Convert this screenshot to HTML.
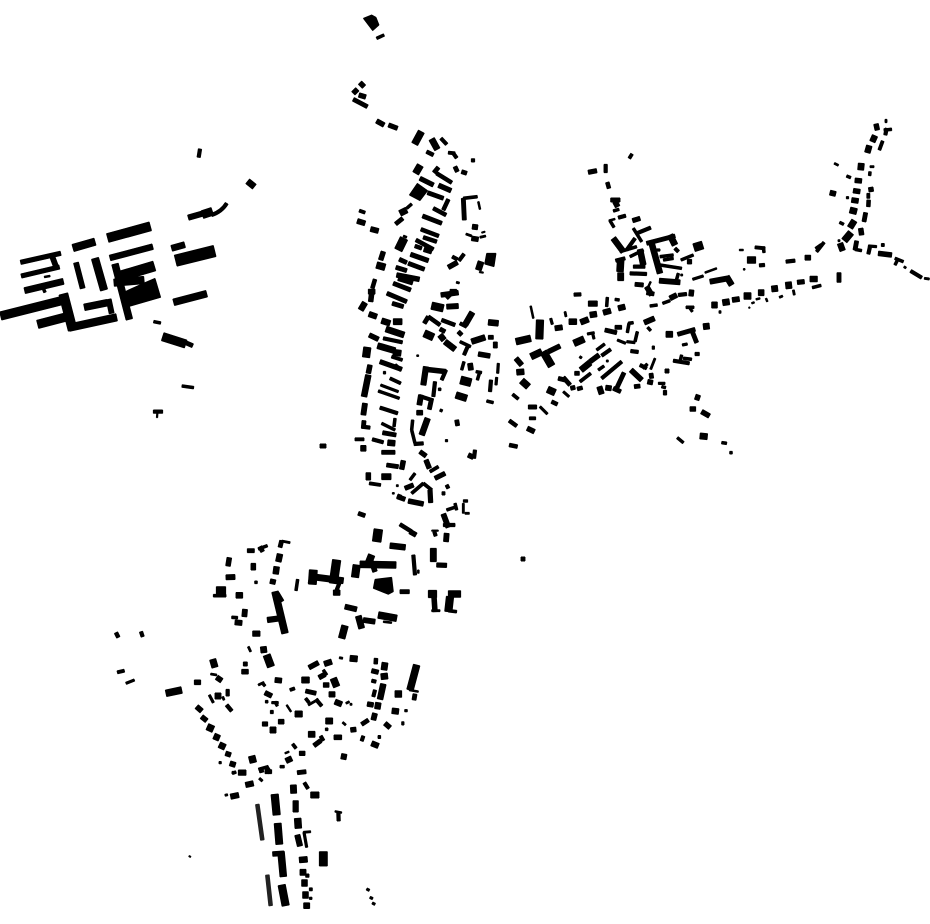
<!DOCTYPE html>
<html><head><meta charset="utf-8"><title>Figure-ground plan</title>
<style>html,body{margin:0;padding:0;background:#fff;width:930px;height:924px;overflow:hidden}svg{display:block}polygon{fill:#000;stroke:none}</style></head>
<body>
<svg width="930" height="924" viewBox="0 0 930 924" fill="none" stroke="#000" xmlns="http://www.w3.org/2000/svg">
<g id="a">
<path stroke-width="4" d="M521 559 525 559M320 446 326 446"/>
<!-- Z1 west -->
<g transform="translate(0,140) scale(.33333)">
<path stroke-width="4" d="M472 820 471 833"/>
<path stroke-width="5" d="M133 411 150 408"/>
<path stroke-width="8" d="M461 545 482 549M546 738 581 743M130 445 135 457"/>
<path stroke-width="10" d="M600 27 596 52M460 815 488 815M635 225Q665 215 680 190"/>
<path stroke-width="12" d="M550 605 578 617"/>
<path stroke-width="13" d="M62 367 182 340M64 408 178 381"/>
<path stroke-width="15" d="M155 345 170 385M228 368 248 445M326 478 335 520"/>
<path stroke-width="17" d="M330 354 458 320"/>
<path stroke-width="18" d="M515 325 554 314M74 452 190 424M743 124 763 140"/>
<path stroke-width="16" d="M565 233 610 220"/>
<path stroke-width="24" d="M607 224 637 214"/>
<path stroke-width="20" d="M521 487 620 461M253 502 322 488M345 372 388 538"/>
<path stroke-width="22" d="M219 324 285 305M285 355 312 450M207 563 350 532M342 428 432 420"/>
<path stroke-width="25" d="M113 553 198 531M2 528 185 482M488 590 557 612"/>
<path stroke-width="27" d="M323 294 451 259M190 462 218 570"/>
<path stroke-width="30" d="M362 408 463 378"/>
<path stroke-width="34" d="M527 362 644 333"/>
<polygon points="375,455 430,430 465,415 482,472 385,500"/>
</g>
<!-- Z2 north -->
<g transform="translate(340,0) scale(.33333)">
<polygon points="70,55 95,45 108,52 117,75 98,92"/>
<path stroke-width="8" d="M110 115 132 105"/>
<path stroke-width="14" d="M60 248 72 260M40 280 52 268M57 285 77 291M110 363 132 375"/>
<path stroke-width="12" d="M40 298 82 320"/>
<path stroke-width="13" d="M146 375 172 385"/>
<path stroke-width="20" d="M224 432 244 395"/>
<path stroke-width="18" d="M275 417 292 448"/>
<path stroke-width="10" d="M303 415 320 433M394 481 404 481M340 460 350 474"/>
<path stroke-width="11" d="M260 455 280 465"/>
<path stroke-width="9" d="M325 458 345 460"/>
</g>
<!-- Z3 center north -->
<g transform="translate(340,160) scale(.33333)">
<path stroke-width="20" d="M227 40 241 16M110 315 135 322"/>
<path stroke-width="12" d="M282 38 295 22M263 98 310 115M248 168 305 190M205 310 253 328M178 298 200 308M168 322 200 332M160 370 212 390M141 400 200 425M157 430 190 440M167 192 188 175M345 20 352 35M365 35 380 40M370 115 373 180"/>
<path stroke-width="11" d="M290 40 335 68M325 118 310 150M280 145 318 165M243 208 296 228M250 232 290 245M228 240 280 268M225 258 245 265M105 358 97 385M265 470 300 495M305 480 345 495"/>
<path stroke-width="13" d="M240 55 280 75M212 283 265 302"/>
<path stroke-width="14" d="M296 76 333 92M252 268 275 275M170 345 238 358M175 355 218 368M130 275 122 300M95 400 92 425M303 405 355 398M325 322 352 307M395 235 415 238"/>
<polygon points="208,105 232,70 263,92 240,122"/>
<polygon points="440,280 468,280 462,320 434,312"/>
<path stroke-width="9" d="M58 152 75 158"/>
<path stroke-width="15" d="M52 183 75 190M92 207 115 213M85 395 105 395M320 440 355 438M397 200 413 202"/>
<path stroke-width="18" d="M180 160 200 150M160 485 186 485M423 305 415 330"/>
<path stroke-width="8" d="M200 145 215 132M370 115 412 110M330 392 350 392"/>
<path stroke-width="24" d="M175 270 192 235"/>
<path stroke-width="6" d="M190 228 200 232M378 222 395 228M420 232 437 228M349 367 358 369"/>
<path stroke-width="17" d="M62 450 75 428M125 482 150 490M445 487 475 490M397 457 375 495"/>
<path stroke-width="16" d="M87 462 110 470"/>
<path stroke-width="5" d="M415 125 420 148"/>
<path stroke-width="4" d="M425 218 435 215M418 336 430 338"/>
<path stroke-width="10" d="M337 290 352 298M372 282 357 302M320 415 335 400M360 490 380 500"/>
<path stroke-width="22" d="M275 437 310 445"/>
<path stroke-width="12" d="M253 490 265 470"/>
</g>
<!-- Z4 center south -->
<g transform="translate(340,320) scale(.33333)">
<path stroke-width="14" d="M88 45 115 58M90 135 85 160M258 148 318 155M258 420 268 445M230 278 248 278M190 422 185 448M85 458 85 480"/>
<path stroke-width="22" d="M82 82 78 112M253 40 280 52"/>
<path stroke-width="18" d="M138 27 192 45M113 77 165 92M160 97 183 100M125 470 153 470"/>
<path stroke-width="10" d="M130 55 187 67M165 135 183 150M65 320 90 323M97 358 130 367M120 263 173 280M318 150 305 180M285 185 280 230M238 228 275 240M222 372 250 370M385 75 372 105M453 180 450 215M405 390 402 415"/>
<path stroke-width="13" d="M120 125 185 148M183 532 172 528"/>
<path stroke-width="9" d="M155 110 187 120M150 175 182 190M270 455 295 440M45 358 72 358M88 490 122 495"/>
<path stroke-width="17" d="M85 165 72 230M62 385 78 385M263 295 245 345M143 368 165 370M300 45 312 60M315 65 345 88M395 65 435 52"/>
<path stroke-width="15" d="M75 250 70 285M243 225 238 255M390 130 393 150"/>
<path stroke-width="12" d="M72 302 70 325M125 397 165 397M128 338 168 345M140 435 175 440M275 235 268 268M355 35 365 45M445 52 460 52M350 300 353 317"/>
<path stroke-width="8" d="M130 158 137 158M295 208 303 208M300 270 307 273M225 460 210 480M218 300 215 330M215 330 225 370M125 310 165 330M165 295 162 320M115 213 178 235M360 65 392 80M372 125 365 150M408 155 425 158M418 160 412 180M440 243 460 248"/>
<path stroke-width="7" d="M122 195 175 215M475 130 473 160M470 172 468 195M316 362 323 362"/>
<path stroke-width="5" d="M230 107 236 107M157 520 163 520"/>
<path stroke-width="16" d="M258 140 250 195"/>
<path stroke-width="6" d="M169 497 175 497"/>
<path stroke-width="13" d="M220 495 195 505M285 475 315 460M172 530 195 538M240 395 258 408M270 510 272 548"/>
<path stroke-width="14" d="M205 543 250 552M385 405 400 412M415 102 450 108"/>
<path stroke-width="9" d="M215 520 250 490M250 490 275 510"/>
<path stroke-width="10" d="M306 520 315 520M320 495 325 505"/>
<path stroke-width="12" d="M300 27 315 35"/>
<path stroke-width="18" d="M460 75 472 75"/>
<path stroke-width="24" d="M362 180 393 188"/>
<path stroke-width="20" d="M348 225 380 235"/>
</g>
<!-- Z6 upper east -->
<g transform="translate(580,150) scale(.33333)">
<path stroke-width="9" d="M148 25 156 12"/>
<path stroke-width="13" d="M25 67 50 62M158 212 180 205"/>
<path stroke-width="10" d="M77 43 77 68M115 203 137 197M170 250 212 233M140 300 165 265M107 332 135 325M160 350 195 350M150 370 200 372M285 295 295 305"/>
<path stroke-width="11" d="M82 97 87 115"/>
<path stroke-width="12" d="M92 150 120 150M165 403 190 405M200 280 285 258"/>
<path stroke-width="15" d="M105 155 113 170M200 410 215 435M238 392 300 397M390 395 445 385"/>
<path stroke-width="8" d="M100 183 117 178M90 212 102 232M160 235 185 275M120 305 170 290M150 320 190 300M240 345 305 355M250 330 280 325M240 320 280 315M295 370 288 395M303 330 340 315"/>
<path stroke-width="5" d="M87 212 105 207M212 395 205 410M375 368 410 355M478 300 490 300M490 358 495 358"/>
<path stroke-width="17" d="M100 265 130 305M180 298 190 345M215 280 240 370M440 380 455 405"/>
<path stroke-width="20" d="M122 330 120 365"/>
<path stroke-width="24" d="M113 380 131 380M342 293 368 285"/>
<path stroke-width="18" d="M270 255 285 285"/>
<path stroke-width="7" d="M230 300 240 300M338 388 370 378"/>
<path stroke-width="6" d="M302 375 308 375"/>
<path stroke-width="14" d="M322 335 335 335"/>
</g>
<!-- Z5 east -->
<g transform="translate(500,290) scale(.33333)">
<path stroke-width="10" d="M222 14 243 13M535 15 560 12M392 183 415 186M305 197 332 178M305 265 365 215M420 225 440 235M585 192 598 192"/>
<path stroke-width="16" d="M265 41 292 41M310 68 332 62M355 55 375 50M298 290 305 312"/>
<path stroke-width="8" d="M322 22 320 50M345 28 358 30M450 48 472 45M488 40 510 32M558 52 582 52M443 112 452 122M382 128 387 100M385 100 400 98M412 125 405 155M290 180 314 162M295 240 312 228M428 235 442 222M485 290 497 293M550 205 575 208M545 195 540 215M532 443 550 458M665 458 680 460M689 488 697 488"/>
<path stroke-width="17" d="M270 75 290 72M242 97 265 88M207 95 230 95M50 247 72 245"/>
<path stroke-width="6" d="M195 65 198 80M660 62 660 70M319 213 325 213M465 205 452 238"/>
<path stroke-width="7" d="M152 85 157 103M262 132 283 128M278 130 282 147M570 55 577 65M352 150 377 160M380 155 405 158M460 168 460 178M547 165 562 162M239 200 245 204M190 305 207 320M120 350 142 372M475 280 495 280"/>
<path stroke-width="15" d="M165 115 187 112M697 30 718 27M433 98 463 85M48 205 65 225M317 293 334 295M393 240 425 270"/>
<path stroke-width="5" d="M92 48 100 85"/>
<path stroke-width="22" d="M120 90 118 147M130 185 155 228"/>
<path stroke-width="20" d="M48 155 92 145M222 160 252 147M93 200 125 185M65 272 85 290M143 298 165 308"/>
<path stroke-width="12" d="M440 8 462 12M315 120 350 128M345 112 365 112M533 133 585 118M575 120 590 158M224 250 238 250M190 262 210 285M175 265 195 270M212 295 225 292M350 295 372 248M340 295 362 305M403 290 420 288M453 250 455 265M495 243 507 243M85 351 110 351"/>
<path stroke-width="15" d="M510 25 530 15"/>
<path stroke-width="18" d="M635 45 652 45M668 38 688 35M498 133 518 133M610 110 628 108M243 240 270 218M600 438 622 440"/>
<path stroke-width="14" d="M575 0 573 18M145 185 180 168M270 215 297 195M443 275 458 278M490 308 500 308M595 315 590 330M570 357 587 357M605 365 628 378M82 415 103 425"/>
<path stroke-width="9" d="M240 275 272 250M38 313 55 327M88 385 107 385"/>
<path stroke-width="11" d="M232 297 247 293M155 335 172 343M28 392 50 408M28 465 52 470"/>
<path stroke-width="10" d="M520 212 568 220"/>
</g>
<!-- Z7 north-east -->
<g transform="translate(740,110) scale(.33333)">
<path stroke-width="6" d="M438 28 438 38M283 160 295 166M390 170 402 170M294 392 300 392M492 470 498 474M553 505 568 507M160 540 163 555M118 562 128 558"/>
<path stroke-width="14" d="M408 42 412 60M345 211 365 213M392 232 394 245M340 242 360 245M362 355 365 375M415 430 455 435"/>
<path stroke-width="10" d="M436 75 440 55M385 432 390 410M512 483 545 503M58 466 74 465M138 455 165 452"/>
<path stroke-width="8" d="M432 60 455 58M390 185 389 197M320 198 332 203M299 337 311 343M345 418 365 422M465 465 475 445M465 445 490 455M70 410 72 428M217 533 243 526"/>
<path stroke-width="17" d="M405 77 397 95M388 107 382 128M300 400 308 422M210 507 232 507"/>
<path stroke-width="9" d="M428 93 418 120M385 250 385 265M424 405 433 405M45 412 75 415M230 425 252 397"/>
<path stroke-width="18" d="M364 160 362 180M330 300 350 305M343 332 330 353M95 537 113 535M55 548 72 548"/>
<path stroke-width="15" d="M270 248 287 252M335 270 355 273M195 443 212 443"/>
<path stroke-width="7" d="M319 263 326 263"/>
<path stroke-width="11" d="M386 270 385 290M228 417 245 405"/>
<path stroke-width="12" d="M377 308 372 335M350 393 345 420M297 488 297 517"/>
<path stroke-width="20" d="M333 368 313 392M22 450 47 450M137 527 155 525M12 558 33 558"/>
<path stroke-width="7" d="M385 408 410 410"/>
<path stroke-width="13" d="M172 517 193 515"/>
<path stroke-width="5" d="M78 565 82 575M48 568 60 565M35 580 43 577"/>
<path stroke-width="4" d="M11 478 15 478M26 593 30 593"/>
</g>
<!-- Z8 mid south -->
<g transform="translate(300,490) scale(.33333)">
<path stroke-width="12" d="M175 70 195 77M300 305 328 305"/>
<path stroke-width="11" d="M300 103 335 125"/>
<path stroke-width="14" d="M330 125 348 135M402 320 405 365M215 215 225 245"/>
<path stroke-width="26" d="M235 118 230 155"/>
<path stroke-width="17" d="M270 167 316 172"/>
<path stroke-width="10" d="M340 195 345 255M403 125 407 138M430 105 465 105M110 300 120 275"/>
<path stroke-width="5" d="M355 240 355 250M250 395 275 398"/>
<path stroke-width="18" d="M400 175 400 215M50 262 130 272M175 378 185 415"/>
<path stroke-width="13" d="M410 225 440 226"/>
<path stroke-width="4" d="M395 122 415 122"/>
<path stroke-width="15" d="M440 130 438 155M430 72 445 112M135 350 170 358M190 390 225 395"/>
<path stroke-width="8" d="M440 60 470 50M490 33 503 33M465 40 470 60M445 362 470 365"/>
<path stroke-width="6" d="M490 40 490 70M495 70 508 70M395 362 420 362"/>
<path stroke-width="25" d="M110 210 100 280"/>
<path stroke-width="24" d="M40 240 37 283"/>
<path stroke-width="16" d="M100 308 120 308"/>
<path stroke-width="22" d="M170 225 165 262M385 312 410 312M450 320 445 365"/>
<path stroke-width="20" d="M180 223 288 225M205 220 215 195M235 375 290 385M135 407 125 445M445 312 482 312"/>
<polygon points="225,268 275,262 280,305 265,313 220,295"/>
</g>
<!-- Z9 south-west -->
<g transform="translate(110,530) scale(.33333)">
<path stroke-width="11" d="M18 308 25 322"/>
<path stroke-width="10" d="M93 305 98 320"/>
<path stroke-width="9" d="M22 427 43 422"/>
<path stroke-width="7" d="M48 460 73 450"/>
<path stroke-width="14" d="M358 83 354 108M430 100 430 120"/>
<path stroke-width="15" d="M348 142 375 141M405 238 403 260M375 277 396 279M500 190 515 215"/>
<path stroke-width="12" d="M412 62 433 62M450 50 458 65M515 32 510 52"/>
<path stroke-width="8" d="M445 57 472 47M434 157 442 157M563 148 558 182M365 262 383 263M310 197 348 197"/>
<path stroke-width="6" d="M515 33 540 38M415 350 422 365"/>
<path stroke-width="17" d="M510 72 505 95M500 110 497 132M378 196 398 196"/>
<path stroke-width="16" d="M490 148 487 162M472 270 510 265M428 311 450 311"/>
<path stroke-width="5" d="M600 145 597 160"/>
<path stroke-width="28" d="M333 170 333 198"/>
<path stroke-width="20" d="M495 185 525 310"/>
<path stroke-width="18" d="M460 350 462 368"/>
</g>
<!-- Z10 south -->
<g transform="translate(160,650) scale(.33333)">
<path stroke-width="19" d="M158 28 165 52"/>
<path stroke-width="14" d="M245 65 265 65M103 97 122 97M125 200 140 212M315 128 335 138M355 215 372 215M197 310 212 315"/>
<path stroke-width="12" d="M250 42 262 42M318 350 330 368"/>
<path stroke-width="22" d="M320 15 333 50"/>
<path stroke-width="6" d="M152 72 170 75M188 140 192 150"/>
<path stroke-width="15" d="M170 82 185 92M110 170 125 183M345 90 365 92M210 340 226 345"/>
<path stroke-width="20" d="M18 130 65 120M142 230 160 238M275 318 280 338"/>
<path stroke-width="7" d="M148 135 160 158M177 338 184 338M335 158 355 158"/>
<path stroke-width="18" d="M165 138 183 138M162 258 178 265M178 284 195 292M330 240 348 240"/>
<path stroke-width="10" d="M203 118 203 138M331 186 340 186"/>
<path stroke-width="11" d="M200 165 215 183"/>
<path stroke-width="6" d="M295 105 312 97"/>
<path stroke-width="8" d="M308 100 315 108M316 155 324 155M345 155 352 168M296 358 325 350M216 368 224 368"/>
<path stroke-width="5" d="M380 165 393 185"/>
<path stroke-width="13" d="M307 222 323 222"/>
<path stroke-width="16" d="M378 333 395 325"/>
<path stroke-width="5" d="M375 310 387 305"/>
<path stroke-width="8" d="M360 350 373 350"/>
</g>
<!-- Z11 south-east -->
<g transform="translate(290,640) scale(.33333)">
<path stroke-width="6" d="M148 53 158 55M168 190 178 185M180 193 186 193M158 247 167 255M55 195 85 178"/>
<path stroke-width="18" d="M180 55 202 57M285 68 282 90M107 243 128 243M55 283 75 283M15 222 37 222M35 120 58 120"/>
<path stroke-width="11" d="M258 55 257 72"/>
<path stroke-width="13" d="M245 92 265 97M28 340 45 340M72 317 92 302"/>
<path stroke-width="20" d="M282 100 284 118M380 75 360 150M325 152 325 172M317 205 315 222M130 115 140 140"/>
<path stroke-width="10" d="M245 122 258 125M255 150 250 170M335 250 342 250M215 303 220 288M92 288 100 302M78 178 95 198"/>
<path stroke-width="5" d="M358 150 385 155"/>
<path stroke-width="12" d="M375 162 372 180M215 253 235 240M47 153 78 160"/>
<path stroke-width="17" d="M280 132 270 178M265 188 262 207"/>
<path stroke-width="14" d="M232 192 250 195M285 250 300 263M182 270 198 268M132 292 155 292M57 83 85 68M87 113 105 103M100 135 117 135"/>
<path stroke-width="7" d="M344 212 352 212"/>
<path stroke-width="15" d="M255 220 250 240"/>
<path stroke-width="9" d="M264 291 272 291M8 312 18 325M0 150 14 145M47 175 57 188"/>
<path stroke-width="16" d="M245 310 265 318M160 358 163 342M103 72 125 65M117 163 135 163M135 185 155 193"/>
<path stroke-width="8" d="M106 268 114 268M100 90 110 105"/>
</g>
<!-- Z12 bottom -->
<g transform="translate(180,770) scale(.33333)">
<path stroke-width="8" d="M157 10 168 6"/>
<path stroke-width="16" d="M175 8 198 8M197 45 220 40M152 80 176 75M347 92 347 126M352 195 360 228"/>
<path stroke-width="12" d="M255 5 275 5M238 3 250 0M352 8 378 5"/>
<path stroke-width="7" d="M238 25 247 33M560 357 568 361M570 382 578 386M577 399 585 403M372 187 380 232"/>
<path stroke-width="18" d="M340 45 341 70M392 75 417 75M360 307 378 307"/>
<path stroke-width="10" d="M373 38 384 56M475 125 476 153M377 317 387 317"/>
<path stroke-width="6" d="M135 76 143 74M370 187 392 185"/>
<path stroke-width="11" stroke="#222" d="M232 103 247 210M262 315 272 407"/>
<path stroke-width="22" d="M284 73 290 135M305 345 317 407"/>
<path stroke-width="21" d="M293 160 298 223"/>
<path stroke-width="20" d="M353 145 355 175M303 245 310 320M365 339 382 339M368 375 385 375"/>
<path stroke-width="5" d="M465 124 485 128"/>
<path stroke-width="24" d="M430 245 430 288"/>
<path stroke-width="14" d="M278 252 312 250"/>
<path stroke-width="17" d="M358 270 382 268M371 407 389 407"/>
<path stroke-width="9" d="M388 358 397 358"/>
<path stroke-width="7" d="M388 385 396 385"/>
<path stroke-width="4" d="M27 258 32 261"/>
</g>
</g>
<use href="#a" x="0.45"/>
<use href="#a" x="-0.45"/>
<use href="#a" y="0.45"/>
<use href="#a" y="-0.45"/>
</svg>
</body></html>
